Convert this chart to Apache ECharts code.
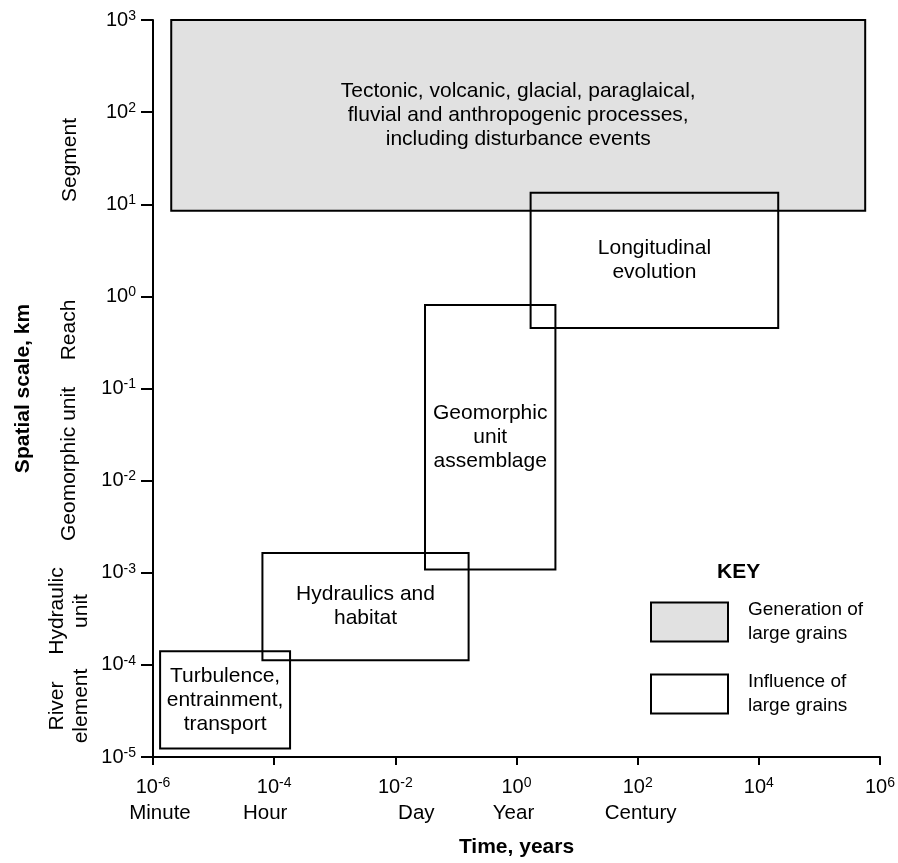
<!DOCTYPE html>
<html>
<head>
<meta charset="utf-8">
<script src="https://cdn.jsdelivr.net/npm/echarts@6/dist/echarts.min.js"></script>
<style>
html,body{margin:0;padding:0;background:#fff;overflow:hidden;}
#chart{width:898px;height:863px;}
</style>
</head>
<body>
<div id="chart"></div>
<script>
// ---- data ----
// boxes: [timeStart, timeEnd, spaceLow, spaceHigh]  (years, km)
const generationBoxes = [
  [2.0e-6, 5.7e5, 8.5, 1000]
];
const generationLabels = [
  "Tectonic, volcanic, glacial, paraglaical,\nfluvial and anthropogenic processes,\nincluding disturbance events"
];
const influenceBoxes = [
  [1.71, 2.09e4, 0.453, 13.3],
  [0.0309, 4.39, 1.087e-3, 0.805],
  [6.4e-5, 0.162, 1.12e-4, 1.64e-3],
  [1.31e-6, 1.83e-4, 1.24e-5, 1.41e-4]
];
const influenceLabels = [
  "Longitudinal\nevolution",
  "Geomorphic\nunit\nassemblage",
  "Hydraulics and\nhabitat",
  "Turbulence,\nentrainment,\ntransport"
];
const seriesNames = ["Generation of\nlarge grains", "Influence of\nlarge grains"];
const timeUnitNames = {"-6": "Minute", "-4": "Hour", "-2": "Day", "0": "Year", "2": "Century"};
const scaleNames = ["Segment", "Reach", "Geomorphic unit", "Hydraulic\nunit", "River\nelement"];

// ---- chart ----
const FONT = '"Liberation Sans", Arial, sans-serif';
const chart = echarts.init(document.getElementById('chart'));

function makeRender(labels, fill) {
  return function (params, api) {
    const p0 = api.coord([api.value(0), api.value(3)]);
    const p1 = api.coord([api.value(1), api.value(2)]);
    return {
      type: 'group',
      children: [
        { type: 'rect',
          shape: { x: p0[0], y: p0[1], width: p1[0] - p0[0], height: p1[1] - p0[1] },
          style: { fill: fill, stroke: '#000', lineWidth: 2 } },
        { type: 'text',
          style: { text: labels[params.dataIndex], x: (p0[0] + p1[0]) / 2, y: (p0[1] + p1[1]) / 2,
                   align: 'center', verticalAlign: 'middle', fill: '#000',
                   fontFamily: FONT, fontSize: 21, lineHeight: 24 } }
      ]
    };
  };
}

// horizontal shift of the time-unit names relative to tick (style only)
const unitPad = {"-6": [0,0,0,14], "-4": [0,18,0,0], "-2": [0,0,0,42], "0": [0,6,0,0], "2": [0,0,0,6]};

function expOf(v) { return Math.round(Math.log10(v)); }

const nameStyle = { fontFamily: FONT, fontSize: 20.5, lineHeight: 30, color: '#000' };
const option = {
  animation: false,
  backgroundColor: '#fff',
  grid: { left: 153, right: 11, top: 20, bottom: 106, containLabel: false },
  xAxis: {
    type: 'log', logBase: 10, min: 1e-6, max: 1e6, interval: 2,
    name: 'Time, years', nameLocation: 'middle', nameGap: 80,
    nameTextStyle: { fontFamily: FONT, fontSize: 21, fontWeight: 'bold', color: '#000' },
    axisLine: { show: true, lineStyle: { color: '#000', width: 2 } },
    axisTick: { show: true, length: 8, lineStyle: { color: '#000', width: 2 } },
    minorTick: { show: false },
    splitLine: { show: false },
    axisLabel: {
      margin: 19,
      formatter: function (v) {
        const e = expOf(v);
        const u = timeUnitNames[String(e)];
        let s = '{b|10}{s|' + e + '}';
        s += '\n' + (u ? '{n' + (e < 0 ? 'm' + (-e) : 'p' + e) + '|' + u + '}' : '{n|}');
        return s;
      },
      rich: {
        b: { fontFamily: FONT, fontSize: 20, lineHeight: 22, color: '#000' },
        s: { fontFamily: FONT, fontSize: 14, lineHeight: 10, verticalAlign: 'top', color: '#000' },
        n: nameStyle,
        nm6: Object.assign({}, nameStyle, { padding: unitPad["-6"] }),
        nm4: Object.assign({}, nameStyle, { padding: unitPad["-4"] }),
        nm2: Object.assign({}, nameStyle, { padding: unitPad["-2"] }),
        np0: Object.assign({}, nameStyle, { padding: unitPad["0"] }),
        np2: Object.assign({}, nameStyle, { padding: unitPad["2"] })
      }
    }
  },
  yAxis: {
    type: 'log', logBase: 10, min: 1e-5, max: 1e3, interval: 1,
    name: 'Spatial scale, km', nameLocation: 'middle', nameGap: 119, nameRotate: 90,
    nameTextStyle: { fontFamily: FONT, fontSize: 21, fontWeight: 'bold', color: '#000' },
    axisLine: { show: true, lineStyle: { color: '#000', width: 2 } },
    axisTick: { show: true, length: 12, lineStyle: { color: '#000', width: 2 } },
    minorTick: { show: false },
    splitLine: { show: false },
    axisLabel: {
      margin: 17,
      formatter: function (v) { return '{b|10}{s|' + expOf(v) + '}'; },
      rich: {
        b: { fontFamily: FONT, fontSize: 20, lineHeight: 22, color: '#000' },
        s: { fontFamily: FONT, fontSize: 14, lineHeight: 10, verticalAlign: 'top', color: '#000' }
      }
    }
  },
  legend: {
    orient: 'vertical', left: 645, top: 593, itemWidth: 77, itemHeight: 39, itemGap: 24,
    selectedMode: false, icon: 'rect',
    textStyle: { fontFamily: FONT, fontSize: 19, lineHeight: 24, color: '#000', padding: [0, 0, 0, 15] },
    data: [
      { name: seriesNames[0], itemStyle: { color: '#e1e1e1', borderColor: '#000', borderWidth: 2 } },
      { name: seriesNames[1], itemStyle: { color: '#fff', borderColor: '#000', borderWidth: 2 } }
    ]
  },
  graphic: [
    { type: 'text', left: 717, top: 562,
      style: { text: 'KEY', fontFamily: FONT, fontSize: 21, fontWeight: 'bold', fill: '#000' } },
    { type: 'text', x: 70, y: 160, rotation: Math.PI / 2,
      style: { text: scaleNames[0], fontFamily: FONT, fontSize: 21, fill: '#000', align: 'center', verticalAlign: 'middle' } },
    { type: 'text', x: 69, y: 330, rotation: Math.PI / 2,
      style: { text: scaleNames[1], fontFamily: FONT, fontSize: 21, fill: '#000', align: 'center', verticalAlign: 'middle' } },
    { type: 'text', x: 69, y: 464, rotation: Math.PI / 2,
      style: { text: scaleNames[2], fontFamily: FONT, fontSize: 21, fill: '#000', align: 'center', verticalAlign: 'middle' } },
    { type: 'text', x: 69, y: 611, rotation: Math.PI / 2,
      style: { text: scaleNames[3], fontFamily: FONT, fontSize: 21, lineHeight: 24, fill: '#000', align: 'center', verticalAlign: 'middle' } },
    { type: 'text', x: 69, y: 706, rotation: Math.PI / 2,
      style: { text: scaleNames[4], fontFamily: FONT, fontSize: 21, lineHeight: 24, fill: '#000', align: 'center', verticalAlign: 'middle' } }
  ],
  series: [
    { name: seriesNames[0], type: 'custom', renderItem: makeRender(generationLabels, '#e1e1e1'),
      itemStyle: { color: '#e1e1e1' }, data: generationBoxes, clip: false, z: 1 },
    { name: seriesNames[1], type: 'custom', renderItem: makeRender(influenceLabels, 'none'),
      itemStyle: { color: '#fff' }, data: influenceBoxes, clip: false, z: 2 }
  ]
};
chart.setOption(option);
</script>
</body>
</html>
